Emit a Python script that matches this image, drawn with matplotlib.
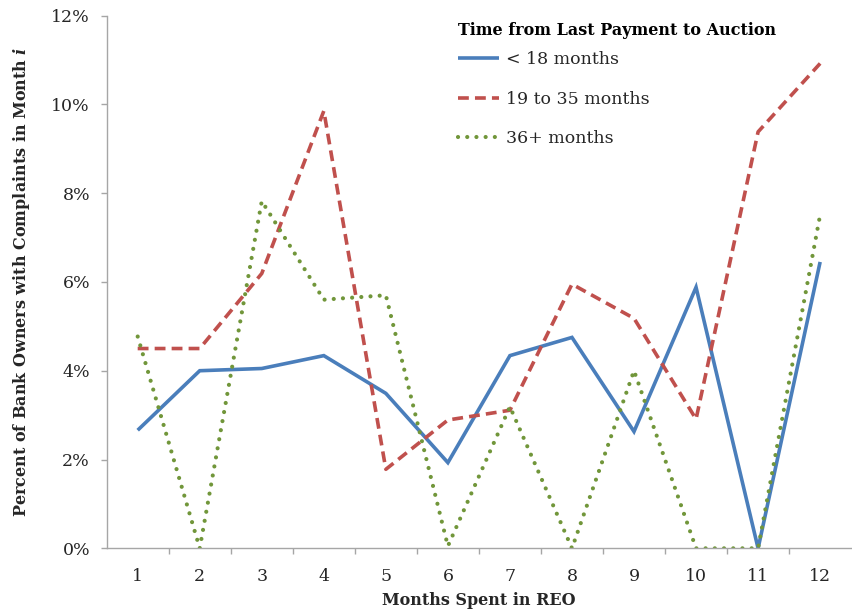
import matplotlib
matplotlib.use("Agg")
import matplotlib.pyplot as plt
from matplotlib.ticker import FixedLocator, FuncFormatter

months = list(range(1, 13))
under_18 = [2.66, 4.00, 4.05, 4.34, 3.49, 1.93, 4.34, 4.75, 2.63, 5.88, 0.00, 6.45]
m19_35 = [4.50, 4.50, 6.19, 9.85, 1.78, 2.89, 3.11, 5.95, 5.18, 2.91, 9.38, 10.92]
m36_plus = [4.77, 0.00, 7.82, 5.60, 5.70, 0.05, 3.19, 0.00, 4.00, 0.00, 0.00, 7.51]

series_labels = ["< 18 months", "19 to 35 months", "36+ months"]
legend_title = "Time from Last Payment to Auction"
x_title = "Months Spent in REO"
y_title = "Percent of Bank Owners with Complaints in Month $\\boldsymbol{i}$"

plt.rcParams["font.family"] = "DejaVu Serif"
plt.rcParams["mathtext.fontset"] = "dejavuserif"

fig = plt.figure(figsize=(8.52, 6.13), dpi=100)
ax = fig.add_axes([0.1252, 0.1055, 0.8738, 0.8692])

ax.plot(months, under_18, color="#4A7EBB", lw=2.6, solid_capstyle="butt",
        solid_joinstyle="miter", label=series_labels[0])
ax.plot(months, m19_35, color="#C0504D", lw=2.6, dashes=(3.0, 1.7),
        dash_capstyle="butt", label=series_labels[1])
ax.plot(months, m36_plus, color="#71963A", lw=3.0, dashes=(0.01, 2.2),
        dash_capstyle="round", label=series_labels[2])

ax.set_xlim(0.5, 12.5)
ax.set_ylim(0, 12)

grey = "#A6A6A6"
for side in ("top", "right"):
    ax.spines[side].set_visible(False)
for side in ("left", "bottom"):
    ax.spines[side].set_color(grey)
    ax.spines[side].set_linewidth(1.0)

ax.set_yticks(range(0, 13, 2))
ax.yaxis.set_major_formatter(FuncFormatter(lambda v, p: f"{v:.0f}%"))
ax.tick_params(axis="y", direction="out", length=4, width=1, color=grey,
               labelsize=12.5, pad=8, labelcolor="#262626")

ax.set_xticks(months)
ax.xaxis.set_minor_locator(FixedLocator([m + 0.5 for m in months[:-1]]))
ax.tick_params(axis="x", which="major", length=0, labelsize=12.5, pad=14,
               labelcolor="#262626")
ax.tick_params(axis="x", which="minor", direction="out", length=4, width=1,
               color=grey)

ax.set_xlabel(x_title, fontsize=11.5, fontweight="bold", labelpad=5,
              color="#262626")
ax.set_ylabel(y_title, fontsize=11.5, fontweight="bold", labelpad=14,
              color="#262626")

leg = ax.legend(loc="upper left", bbox_to_anchor=(0.462, 1.0), frameon=False,
                title=legend_title, fontsize=12.5, handlelength=2.4,
                labelspacing=1.3, handletextpad=0.4, borderaxespad=0)
leg.get_title().set_fontweight("bold")
leg.get_title().set_fontsize(11.5)
leg._legend_box.align = "left"
leg._legend_box.sep = 8.5
for t in leg.get_texts():
    t.set_color("#262626")

fig.savefig("out.png", dpi=100)
